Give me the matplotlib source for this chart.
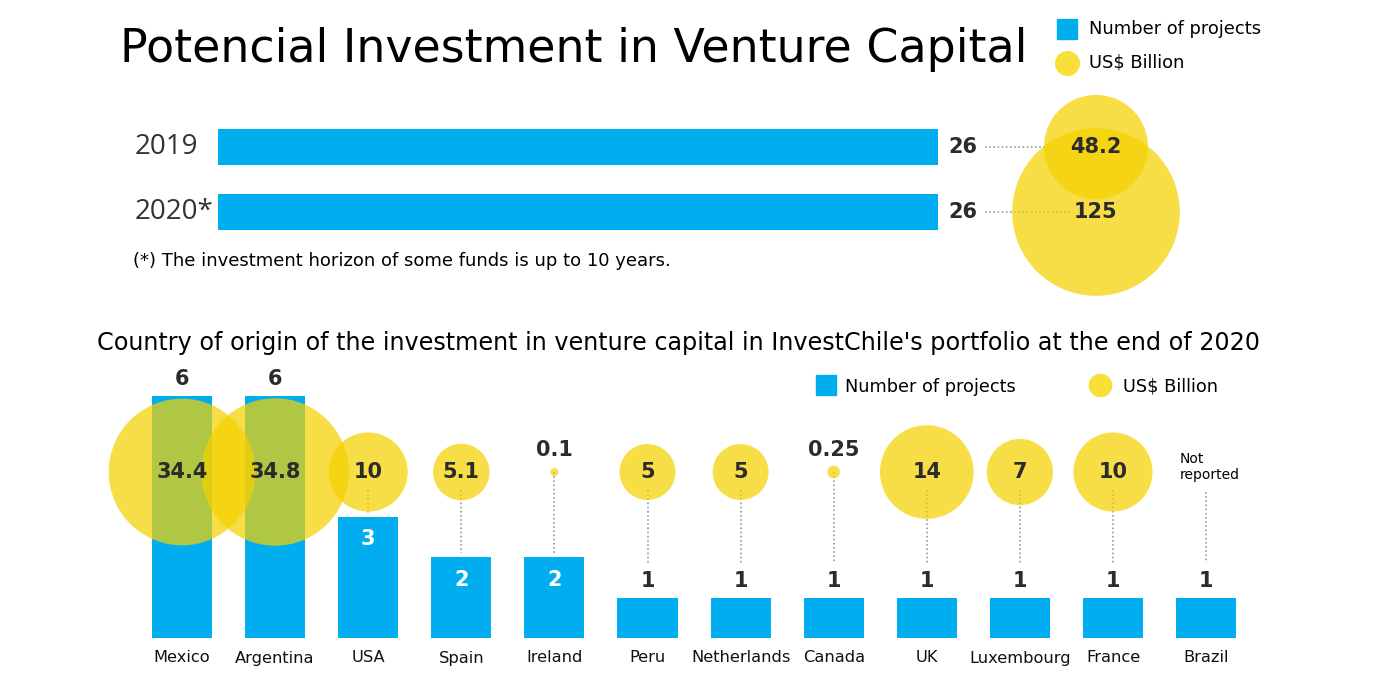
import matplotlib
matplotlib.use("Agg")
import matplotlib.pyplot as plt
from matplotlib.lines import Line2D

# ---------------- data ----------------
years = ["2019", "2020*"]
year_projects = [26, 26]
year_billions = [48.2, 125]
year_billion_labels = ["48.2", "125"]

countries = ["Mexico", "Argentina", "USA", "Spain", "Ireland", "Peru",
             "Netherlands", "Canada", "UK", "Luxembourg", "France", "Brazil"]
country_projects = [6, 6, 3, 2, 2, 1, 1, 1, 1, 1, 1, 1]
country_billions = [34.4, 34.8, 10, 5.1, 0.1, 5, 5, 0.25, 14, 7, 10, None]
country_billion_labels = ["34.4", "34.8", "10", "5.1", "0.1", "5", "5",
                          "0.25", "14", "7", "10", "Not\nreported"]

# ---------------- style ----------------
W, H = 1384, 692
BLUE = "#00AEEF"
YELLOW = "#F5D200"
YALPHA = 0.72
DARK = "#2b2b2b"
DOT = "#9a9a9a"

fig = plt.figure(figsize=(W / 100, H / 100), dpi=100)


def fx(px):
    return px / W


def fy(py):
    return 1 - py / H


# ---------------- top chart ----------------
top_px_per_unit = 720 / 26.0
ax1 = fig.add_axes([0, fy(310), 1, (310 - 80) / H])
ax1.set_xlim(-218 / top_px_per_unit, (W - 218) / top_px_per_unit)
ax1.set_ylim(1 + (310 - 212) / 65.0, -(147 - 80) / 65.0)
ax1.axis("off")

ypos = list(range(len(years)))
ax1.barh(ypos, year_projects, height=0.54, color=BLUE, zorder=1)
BUBBLE_X = (1096 - 218) / top_px_per_unit
ax1.scatter([BUBBLE_X] * len(years), ypos,
            s=[116.6 * v for v in year_billions],
            color=YELLOW, alpha=YALPHA, linewidths=0, zorder=2)
line_ends = [(1062 - 218) / top_px_per_unit, (1070 - 218) / top_px_per_unit]
for y, yr, n, lab, le in zip(ypos, years, year_projects, year_billion_labels, line_ends):
    ax1.text((135 - 218) / top_px_per_unit, y, yr, ha="left", va="center",
             fontsize=20, color="#333333", family="Open Sans")
    ax1.text(n + 0.36, y, str(n), ha="left", va="center", fontsize=15,
             fontweight="bold", color=DARK)
    ax1.plot([(985 - 218) / top_px_per_unit, le], [y, y], ls=(0, (1, 1.5)),
             color=DOT, lw=1.2, zorder=1.5)
    ax1.text(BUBBLE_X, y, lab, ha="center", va="center", fontsize=15,
             fontweight="bold", color=DARK, zorder=4)

fig.text(fx(120), fy(50), "Potencial Investment in Venture Capital",
         ha="left", va="center", fontsize=33, color="black")
fig.text(fx(133), fy(261), "(*) The investment horizon of some funds is up to 10 years.",
         ha="left", va="center", fontsize=13, color="black")

# top legend
fig.add_artist(Line2D([fx(1067)], [fy(29)], marker="s", ms=14.5, color=BLUE,
                      lw=0, transform=fig.transFigure))
fig.add_artist(Line2D([fx(1067)], [fy(63)], marker="o", ms=17, color="#F9DF3A",
                      lw=0, transform=fig.transFigure))
fig.text(fx(1089), fy(29), "Number of projects", ha="left", va="center",
         fontsize=12.9, color="black")
fig.text(fx(1089), fy(63), "US$ Billion", ha="left", va="center",
         fontsize=12.9, color="black")

# ---------------- bottom chart ----------------
fig.text(fx(97), fy(343),
         "Country of origin of the investment in venture capital in InvestChile's portfolio at the end of 2020",
         ha="left", va="center", fontsize=17.2, color="black")

ppu = 40.3
xstep = 93.1
ax2 = fig.add_axes([0, 0, 1, (H - 300) / H])
ax2.set_ylim(-(H - 638) / ppu, (638 - 300) / ppu)
ax2.set_xlim(-182 / xstep, (W - 182) / xstep)
ax2.axis("off")

xpos = list(range(len(countries)))
ax2.bar(xpos, country_projects, width=0.645, color=BLUE, zorder=1)

CY = (638 - 472) / ppu
bx = [x for x, v in zip(xpos, country_billions) if v is not None]
bv = [v for v in country_billions if v is not None]
ax2.scatter(bx, [CY] * len(bx), s=[324 * v for v in bv], color=YELLOW,
            alpha=YALPHA, linewidths=0, zorder=2)

for x, c, n, v, lab in zip(xpos, countries, country_projects,
                           country_billions, country_billion_labels):
    # country name
    ax2.text(x, -20 / ppu, c, ha="center", va="center", fontsize=11.7,
             color="#111111")
    # project count
    if n >= 6 or n == 1:
        ax2.text(x, n + 0.42, str(n), ha="center", va="center", fontsize=15,
                 fontweight="bold", color=DARK, zorder=4)
        line_end = n + 0.86
    else:
        ax2.text(x, n - 0.55, str(n), ha="center", va="center", fontsize=15,
                 fontweight="bold", color="white", zorder=4)
        line_end = n + 0.1
    # billions label
    if v is None:
        ax2.text(x - 26 / xstep, (638 - 467) / ppu, lab, ha="left",
                 va="center", fontsize=10, color="black", linespacing=1.1)
        line_start = (638 - 492) / ppu
    elif v < 1:
        ax2.text(x, (638 - 450) / ppu, lab, ha="center", va="center",
                 fontsize=15, fontweight="bold", color=DARK, zorder=4)
        line_start = CY
    else:
        ax2.text(x, CY, lab, ha="center", va="center", fontsize=15,
                 fontweight="bold", color=DARK, zorder=4)
        line_start = CY - 0.45
    if n < 6:
        ax2.plot([x, x], [line_start, line_end], ls=(0, (1, 1.5)), color=DOT,
                 lw=1.2, zorder=1.5)

# bottom legend
fig.add_artist(Line2D([fx(826)], [fy(385)], marker="s", ms=13.7, color=BLUE,
                      lw=0, transform=fig.transFigure))
fig.add_artist(Line2D([fx(1100)], [fy(385)], marker="o", ms=16, color="#F9DF3A",
                      lw=0, transform=fig.transFigure))
fig.text(fx(845), fy(387), "Number of projects", ha="left", va="center",
         fontsize=12.8, color="black")
fig.text(fx(1123), fy(386), "US$ Billion", ha="left", va="center",
         fontsize=12.8, color="black")

fig.savefig("out.png", dpi=100, facecolor="white")
